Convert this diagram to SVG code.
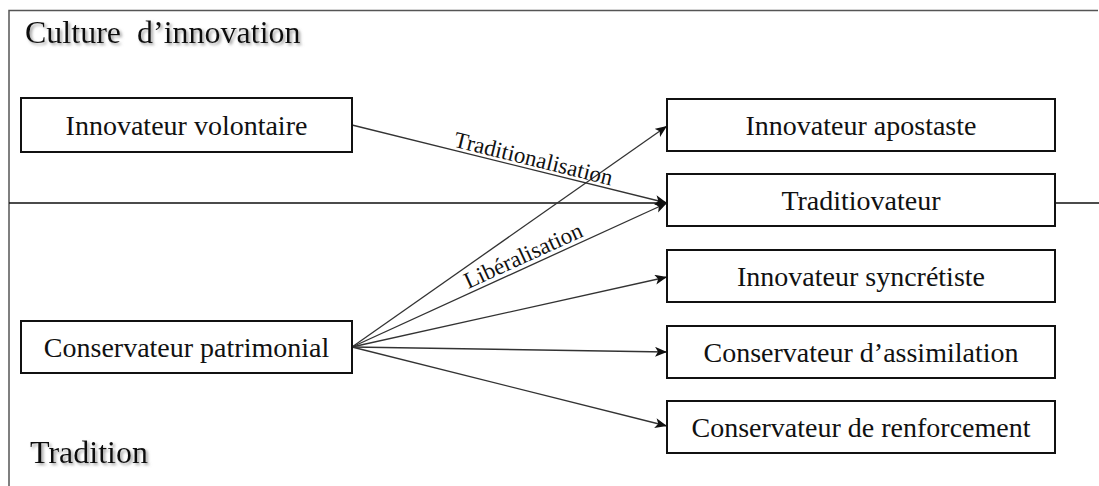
<svg xmlns="http://www.w3.org/2000/svg" width="1099" height="486" viewBox="0 0 1099 486">
<style>
.frame{stroke:#555;stroke-width:1.5;fill:none}
.box{fill:#fff;stroke:#111;stroke-width:2}
.lbl{font-size:28px;fill:#111;text-anchor:middle}
.zone{font-size:32px;fill:#111;filter:url(#sh)}
.conn{stroke:#333;stroke-width:1.3;fill:none;marker-end:url(#ah)}
.elbl{font-size:23px;fill:#111;text-anchor:middle}
</style>
<defs>
<marker id="ah" markerUnits="userSpaceOnUse" markerWidth="14" markerHeight="12" refX="12" refY="5" orient="auto" viewBox="0 0 14 12">
<path d="M0,0 L12,5 L0,10 L3,5 z" fill="#111"/>
</marker>
<filter id="sh" x="-10%" y="-30%" width="120%" height="160%">
<feDropShadow dx="2" dy="2" stdDeviation="1.5" flood-color="#888" flood-opacity="0.8"/>
</filter>
</defs>
<rect width="1099" height="486" fill="#fff"/>
<g id="frame">
<path class="frame" d="M9,486 V10.5 H1098"/>
<path d="M9,203 H667 M1055,203 H1099" stroke="#111" stroke-width="1.5"/>
</g>
<g font-family="'Liberation Serif', 'Times New Roman', serif">
<g id="zone-culture"><text class="zone" x="25" y="43" xml:space="preserve">Culture  d’innovation</text></g>
<g id="zone-tradition"><text class="zone" x="30" y="463">Tradition</text></g>
<g id="connectors">
<line class="conn" x1="352" y1="125" x2="667" y2="203"/>
<line class="conn" x1="352" y1="347" x2="667" y2="126"/>
<line class="conn" x1="352" y1="347" x2="667" y2="203"/>
<line class="conn" x1="352" y1="347" x2="667" y2="277"/>
<line class="conn" x1="352" y1="347" x2="667" y2="352"/>
<line class="conn" x1="352" y1="347" x2="667" y2="426"/>
<text class="elbl" transform="translate(531.7,166) rotate(13.8)">Traditionalisation</text>
<text class="elbl" transform="translate(526.3,262.5) rotate(-24.6)">Libéralisation</text>
</g>
<g id="n-volontaire"><rect class="box" x="21" y="98" width="331" height="54"/><text class="lbl" x="186.5" y="135">Innovateur volontaire</text></g>
<g id="n-patrimonial"><rect class="box" x="21" y="321" width="331" height="52"/><text class="lbl" x="186.5" y="357">Conservateur patrimonial</text></g>
<g id="n-apostaste"><rect class="box" x="667" y="99" width="388" height="52"/><text class="lbl" x="861" y="135">Innovateur apostaste</text></g>
<g id="n-traditiovateur"><rect class="box" x="667" y="174" width="388" height="52"/><text class="lbl" x="861" y="210">Traditiovateur</text></g>
<g id="n-syncretiste"><rect class="box" x="667" y="250" width="388" height="52"/><text class="lbl" x="861" y="286">Innovateur syncrétiste</text></g>
<g id="n-assimilation"><rect class="box" x="667" y="326" width="388" height="52"/><text class="lbl" x="861" y="362">Conservateur d’assimilation</text></g>
<g id="n-renforcement"><rect class="box" x="667" y="401" width="388" height="52"/><text class="lbl" x="861" y="437">Conservateur de renforcement</text></g>
</g>
</svg>
